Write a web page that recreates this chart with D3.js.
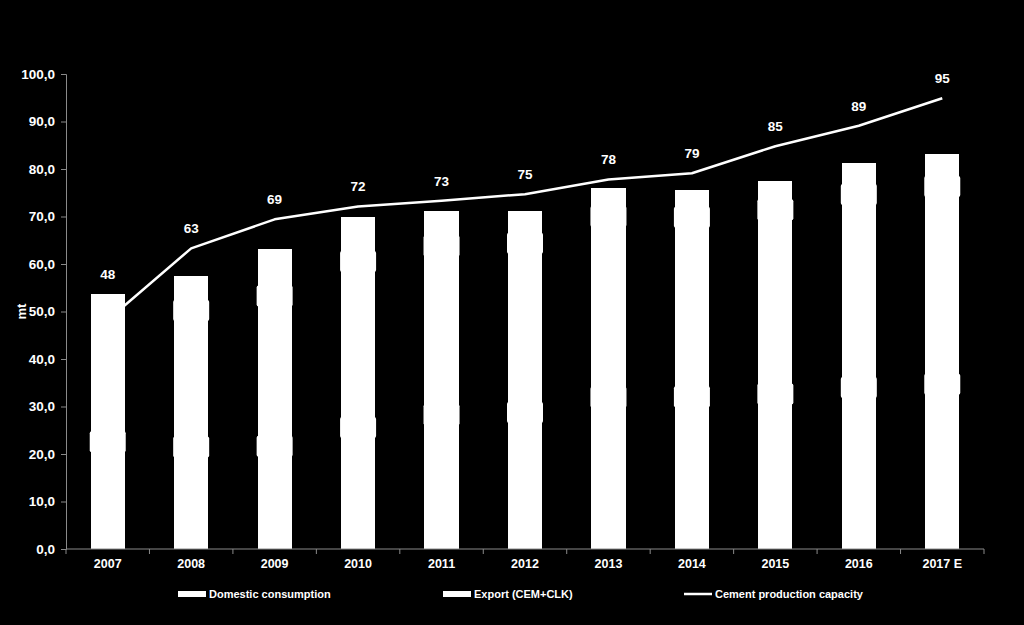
<!DOCTYPE html>
<html>
<head>
<meta charset="utf-8">
<script src="https://cdn.jsdelivr.net/npm/d3@7"></script>
<style>
  html, body { margin: 0; padding: 0; background: #000; }
  svg { display: block; }
  text { font-family: "Liberation Sans", Arial, sans-serif; font-weight: bold; fill: #fff; }
</style>
</head>
<body>
<svg id="chart" width="1024" height="625"></svg>
<script>
const years = ["2007", "2008", "2009", "2010", "2011", "2012", "2013", "2014", "2015", "2016", "2017 E"];
const domestic = [45.2, 43.0, 43.3, 51.2, 56.5, 57.5, 63.9, 64.1, 65.3, 68.0, 69.4];
const exportVals = [8.5, 14.4, 19.9, 18.7, 14.6, 13.7, 12.2, 11.5, 12.2, 13.3, 13.8];
const capacity = [48.2, 63.3, 69.4, 72.1, 73.3, 74.7, 77.8, 79.1, 84.8, 89.1, 94.9];
const yTicks = [0, 10, 20, 30, 40, 50, 60, 70, 80, 90, 100];
const seriesNames = ["Domestic consumption", "Export (CEM+CLK)", "Cement production capacity"];

const svg = d3.select("#chart");
const W = 1024, H = 625;
svg.append("rect").attr("width", W).attr("height", H).attr("fill", "#000");

const m = { left: 66, right: 40, top: 74, bottom: 76 };
const x = d3.scaleBand().domain(years).range([m.left, W - m.right]).paddingInner(0.59).paddingOuter(0.295);
const y = d3.scaleLinear().domain([0, 100]).range([H - m.bottom, m.top]);

const data = years.map((yr, i) => ({ yr, dom: domestic[i], exp: exportVals[i], cap: capacity[i] }));

// capacity line (drawn behind bars)
const line = d3.line().x(d => x(d.yr) + x.bandwidth() / 2).y(d => y(d.cap));
svg.append("path").datum(data).attr("d", line)
  .attr("fill", "none").attr("stroke", "#fff").attr("stroke-width", 2.5).attr("stroke-linejoin", "round");

// stacked bars
const bars = svg.append("g").attr("shape-rendering", "crispEdges");
bars.selectAll("rect.dom").data(data).join("rect").attr("class", "dom")
  .attr("x", d => x(d.yr)).attr("width", x.bandwidth())
  .attr("y", d => y(d.dom) - 0.5).attr("height", d => y(0) - y(d.dom) + 0.5)
  .attr("fill", "#fff");
bars.selectAll("rect.exp").data(data).join("rect").attr("class", "exp")
  .attr("x", d => x(d.yr)).attr("width", x.bandwidth())
  .attr("y", d => y(d.dom + d.exp)).attr("height", d => y(d.dom) - y(d.dom + d.exp) + 0.5)
  .attr("fill", "#fff");

// segment data labels (white boxes with white text)
const fmt1 = d3.format(".1f");
const segLabels = [];
data.forEach(d => {
  segLabels.push({ yr: d.yr, mid: d.dom / 2, v: d.dom });
  if (d.exp >= 10) segLabels.push({ yr: d.yr, mid: d.dom + d.exp / 2, v: d.exp });
});
const lg = svg.append("g");
const lbl = lg.selectAll("g").data(segLabels).join("g")
  .attr("transform", d => `translate(${x(d.yr) + x.bandwidth() / 2},${y(d.mid)})`);
lbl.append("rect").attr("x", -18).attr("y", -10.5).attr("width", 36).attr("height", 21)
  .attr("rx", 2).attr("fill", "#fff");
lbl.append("text").attr("text-anchor", "middle").attr("dy", "0.35em")
  .style("font-size", "12px").style("fill", "#fff")
  .text(d => fmt1(d.v).replace(".", ","));

// capacity labels
svg.append("g").selectAll("text").data(data).join("text")
  .attr("x", d => x(d.yr) + x.bandwidth() / 2)
  .attr("y", d => Math.min(y(d.cap), y(d.dom + d.exp)) - 20)
  .attr("text-anchor", "middle").attr("dy", "0.35em")
  .style("font-size", "13.5px")
  .text(d => d3.format(".0f")(d.cap));

// y axis
const yAxis = d3.axisLeft(y).tickValues(yTicks).tickSize(5).tickPadding(6)
  .tickFormat(v => d3.format(".1f")(v).replace(".", ","));
const ga = svg.append("g").attr("transform", `translate(${m.left},0)`).call(yAxis);
ga.select(".domain").attr("stroke", "#8a8a8a");
ga.selectAll(".tick line").attr("stroke", "#8a8a8a");
ga.selectAll(".tick text").style("font-size", "13.5px").style("fill", "#fff")
  .style("font-family", "'Liberation Sans', Arial, sans-serif").style("font-weight", "bold");

svg.append("text").attr("transform", `translate(26,${y(50)}) rotate(-90)`)
  .attr("text-anchor", "middle").style("font-size", "13px").text("mt");

// x axis
const gx = svg.append("g").attr("transform", `translate(0,${y(0)})`);
gx.append("line").attr("x1", m.left).attr("x2", W - m.right).attr("y1", 0).attr("y2", 0).attr("stroke", "#8a8a8a");
const step = x.step();
const boundaries = years.map(yr => x(yr) - (step - x.bandwidth()) / 2).concat([W - m.right]);
gx.selectAll("line.tk").data(boundaries).join("line").attr("class", "tk")
  .attr("x1", d => d).attr("x2", d => d).attr("y1", 0).attr("y2", 5).attr("stroke", "#8a8a8a");
gx.selectAll("text").data(years).join("text")
  .attr("x", d => x(d) + x.bandwidth() / 2).attr("y", 15)
  .attr("text-anchor", "middle").attr("dy", "0.35em")
  .style("font-size", "12.5px").text(d => d);

// legend
const legendX = [178, 443, 684];
const leg = svg.append("g").attr("transform", "translate(0,594)");
seriesNames.forEach((name, i) => {
  const g = leg.append("g").attr("transform", `translate(${legendX[i]},0)`);
  if (i < 2) {
    g.append("rect").attr("x", 0).attr("y", -3).attr("width", 28).attr("height", 6).attr("fill", "#fff");
  } else {
    g.append("line").attr("x1", 0).attr("x2", 28).attr("y1", 0).attr("y2", 0).attr("stroke", "#fff").attr("stroke-width", 2.5);
  }
  g.append("text").attr("x", 31).attr("dy", "0.35em").style("font-size", "11px").text(name);
});
</script>
</body>
</html>
